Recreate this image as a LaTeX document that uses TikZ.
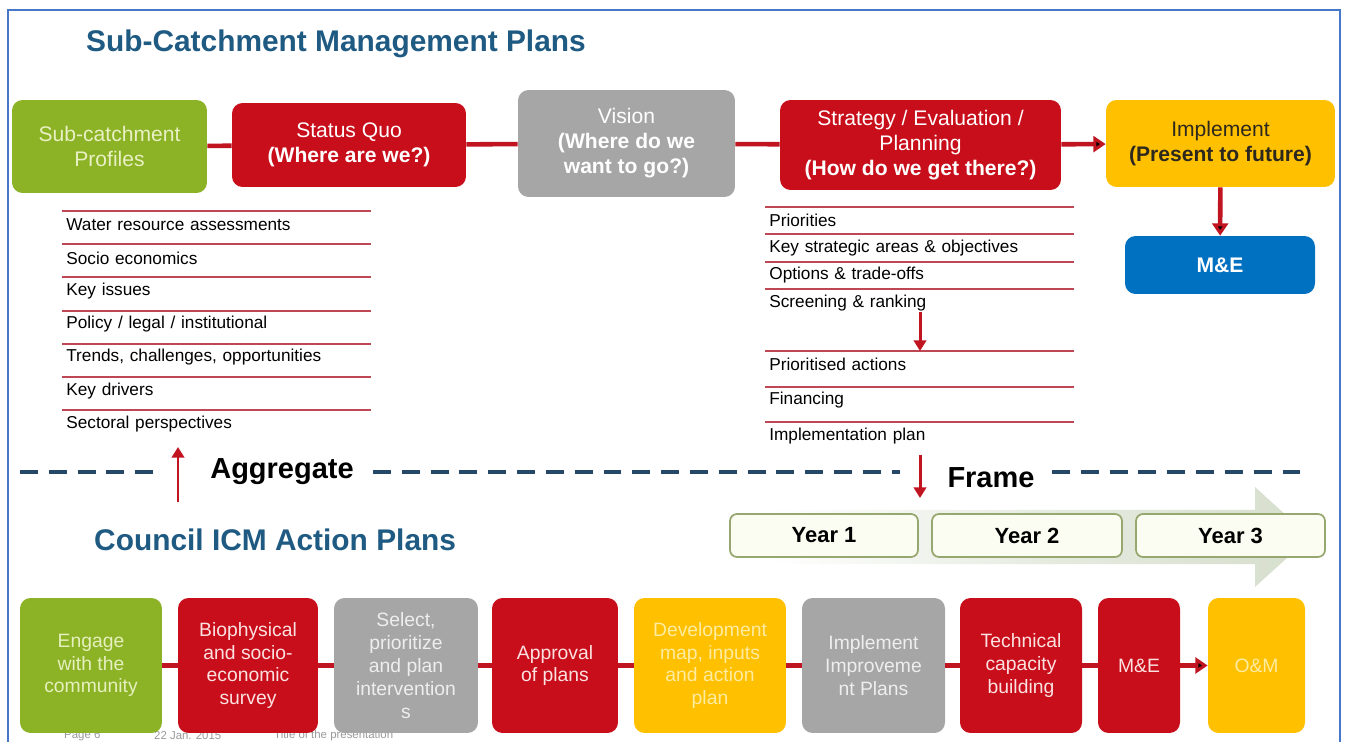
\documentclass[tikz,border=0pt]{standalone}
\usepackage{fontspec}
\setmainfont{Liberation Sans}
\usepackage{xcolor}
\usetikzlibrary{positioning,arrows.meta}
\definecolor{scgreen}{RGB}{140,178,38}
\definecolor{scred}{RGB}{200,14,26}
\definecolor{scgray}{RGB}{166,166,166}
\definecolor{scyellow}{RGB}{255,192,0}
\definecolor{scblue}{RGB}{0,112,192}
\definecolor{linkred}{RGB}{192,20,32}
\definecolor{rulered}{RGB}{190,70,85}
\definecolor{headblue}{RGB}{31,90,130}
\definecolor{sepblue}{RGB}{38,72,104}
\definecolor{frameblue}{RGB}{72,118,200}
\definecolor{yearfill}{RGB}{252,253,242}
\definecolor{yearedge}{RGB}{150,168,112}
\definecolor{yeararrow}{RGB}{214,222,204}
\tikzset{
  >={Triangle[length=7pt,width=9pt]},
  box/.style={rounded corners=6pt,align=center,inner sep=2pt,text=white,
    font=\fontsize{12}{14.2}\selectfont},
  step box/.style={rounded corners=6pt,align=center,inner sep=1pt,
    minimum height=2.7cm,font=\fontsize{11}{13}\selectfont},
  item/.style={anchor=north west,minimum width=6.16cm,minimum height=0.534cm,
    inner sep=0pt,text width=6.0cm,align=left,font=\fontsize{9.8}{11}\selectfont},
  ruler/.style={draw=rulered,line width=1.1pt},
  link/.style={draw=linkred,line width=2.6pt},
  thin link/.style={draw=linkred,line width=1.7pt,>={Triangle[length=6pt,width=7pt]}},
  heading/.style={anchor=west,text=headblue,font=\fontsize{17}{20}\bfseries},
  sep/.style={draw=sepblue,line width=2.3pt,dash pattern=on 10.2pt off 6.2pt},
  year box/.style={rounded corners=4pt,draw=yearedge,line width=1pt,fill=yearfill,
    minimum height=0.86cm,font=\fontsize{12.5}{14}\bfseries},
  footer/.style={anchor=west,text=gray!80,font=\fontsize{6.5}{7}\selectfont},
}
\begin{document}
\begin{tikzpicture}[x=0.02cm,y=-0.02cm]
    \useasboundingbox (0,0) rectangle (1348,742);
    \draw[frameblue,line width=1.2pt] (8,742) -- (8,10) -- (1340,10) -- (1340,742);

    % upper level
    \node[heading] (upper) at (80,44) {Sub-Catchment Management Plans};

    \node[box,fill=scgreen,text={rgb,255:red,232;green,240;blue,196},
      minimum width=3.9cm,minimum height=1.86cm] (prof) at (109.5,146.5)
      {Sub-catchment\\Profiles};
    \node[box,fill=scred,minimum width=4.68cm,minimum height=1.68cm] (quo) at (349,145)
      {Status Quo\\\textbf{(Where are we?)}};
    \node[box,fill=scgray,minimum width=4.34cm,minimum height=2.14cm] (vis) at (626.5,143.5)
      {Vision\\\textbf{(Where do we}\\\textbf{want to go?)}};
    \node[box,fill=scred,minimum width=5.62cm,minimum height=1.8cm] (strat) at (920.5,145)
      {Strategy / Evaluation /\\Planning\\\textbf{(How do we get there?)}};
    \node[box,fill=scyellow,text={rgb,255:red,45;green,40;blue,30},
      minimum width=4.58cm,minimum height=1.74cm] (impl) at (1220.5,143.5)
      {Implement\\\textbf{(Present to future)}};
    \node[box,fill=scblue,minimum width=3.8cm,minimum height=1.16cm] (me) at (1220,265)
      {\textbf{M\&E}};

    \path[link]
    (prof) edge (quo)
    (quo) edge (vis)
    (vis) edge (strat)
    (strat) edge[->] (impl)
    (impl) edge[->] (me)
    ;

    % status quo topics
    \node[item] (sq1) at (62,211) {Water resource assessments};
    \node[item] (sq2) [below=0.116cm of sq1] {Socio economics};
    \node[item] (sq3) [below=0.116cm of sq2] {Key issues};
    \node[item] (sq4) [below=0.116cm of sq3] {Policy / legal / institutional};
    \node[item] (sq5) [below=0.116cm of sq4] {Trends, challenges, opportunities};
    \node[item] (sq6) [below=0.116cm of sq5] {Key drivers};
    \node[item] (sq7) [below=0.116cm of sq6] {Sectoral perspectives};
    \path[ruler]
    (sq1.north west) -- (sq1.north east) (sq2.north west) -- (sq2.north east)
    (sq3.north west) -- (sq3.north east) (sq4.north west) -- (sq4.north east)
    (sq5.north west) -- (sq5.north east) (sq6.north west) -- (sq6.north east)
    (sq7.north west) -- (sq7.north east);

    % strategy topics
    \node[item] (st1) at (765,207) {Priorities};
    \node[item] (st2) [below=0cm of st1] {Key strategic areas \& objectives};
    \node[item] (st3) [below=0cm of st2] {Options \& trade-offs};
    \node[item] (st4) [below=0cm of st3] {Screening \& ranking};
    \node[item] (st5) at (765,351) {Prioritised actions};
    \node[item] (st6) [below=0.166cm of st5] {Financing};
    \node[item] (st7) [below=0.166cm of st6] {Implementation plan};
    \path[ruler]
    (st1.north west) -- (st1.north east) (st2.north west) -- (st2.north east)
    (st3.north west) -- (st3.north east) (st4.north west) -- (st4.north east)
    (st5.north west) -- (st5.north east) (st6.north west) -- (st6.north east)
    (st7.north west) -- (st7.north east);
    \coordinate (rank) at (920,312);
    \draw[thin link,->] (rank) -- (rank |- st5.north);

    % divider
    \path[sep] (20,472) -- (161,472) (373,472) -- (900,472) (1052,472) -- (1305,472);
    \node[font=\fontsize{16.5}{18}\bfseries] (aggr) at (282,472) {Aggregate};
    \node[font=\fontsize{16.5}{18}\bfseries] (frame) at (991,478) {Frame};
    \coordinate (aggr-s) at (178,502);
    \coordinate (aggr-e) at (178,447);
    \draw[thin link,->] (aggr-s) -- (aggr-e);
    \coordinate (frame-s) at (920,455);
    \coordinate (frame-e) at (920,498);
    \draw[thin link,->] (frame-s) -- (frame-e);

    % lower level
    \node[heading] (lower) at (88,540) {Council ICM Action Plans};

    \shade[left color=white,right color=yeararrow,middle color=yeararrow!60]
      (770,510) -- (1255,510) -- (1255,487) -- (1310,537) -- (1255,587)
      -- (1255,564) -- (770,564) -- cycle;
    \node[year box,minimum width=3.76cm] (y1) at (824,535.5) {Year 1};
    \node[year box,minimum width=3.8cm] (y2) at (1027,535.5) {Year 2};
    \node[year box,minimum width=3.78cm] (y3) at (1230.5,535.5) {Year 3};

    \node[footer] (page) at (58,736) {Page 6};
    \node[footer] (date) at (148,736) {22 Jan. 2015};
    \node[footer] (ttl) at (268,736) {Title of the presentation};

    \node[step box,fill=scgreen,text={rgb,255:red,230;green,240;blue,190},minimum width=2.84cm]
      (b1) at (91,665.5) {Engage\\with the\\community};
    \node[step box,fill=scred,text={rgb,255:red,252;green,225;blue,225},minimum width=2.8cm]
      (b2) at (248,665.5) {Biophysical\\and socio-\\economic\\survey};
    \node[step box,fill=scgray,text={rgb,255:red,238;green,238;blue,238},minimum width=2.88cm]
      (b3) at (406,665.5) {Select,\\prioritize\\and plan\\intervention\\s};
    \node[step box,fill=scred,text={rgb,255:red,252;green,225;blue,225},minimum width=2.52cm]
      (b4) at (555,665.5) {Approval\\of plans};
    \node[step box,fill=scyellow,text={rgb,255:red,255;green,236;blue,160},minimum width=3.04cm]
      (b5) at (710,665.5) {Development\\map, inputs\\and action\\plan};
    \node[step box,fill=scgray,text={rgb,255:red,238;green,238;blue,238},minimum width=2.86cm]
      (b6) at (873.5,665.5) {Implement\\Improveme\\nt Plans};
    \node[step box,fill=scred,text={rgb,255:red,252;green,225;blue,225},minimum width=2.44cm]
      (b7) at (1021,665.5) {Technical\\capacity\\building};
    \node[step box,fill=scred,text={rgb,255:red,252;green,225;blue,225},minimum width=1.64cm]
      (b8) at (1139,665.5) {M\&E};
    \node[step box,fill=scyellow,text={rgb,255:red,255;green,236;blue,160},minimum width=1.94cm]
      (b9) at (1256.5,665.5) {O\&M};

    \path[link]
    (b1) edge (b2)
    (b2) edge (b3)
    (b3) edge (b4)
    (b4) edge (b5)
    (b5) edge (b6)
    (b6) edge (b7)
    (b7) edge (b8)
    (b8) edge[->] (b9)
    ;
\end{tikzpicture}
\end{document}
